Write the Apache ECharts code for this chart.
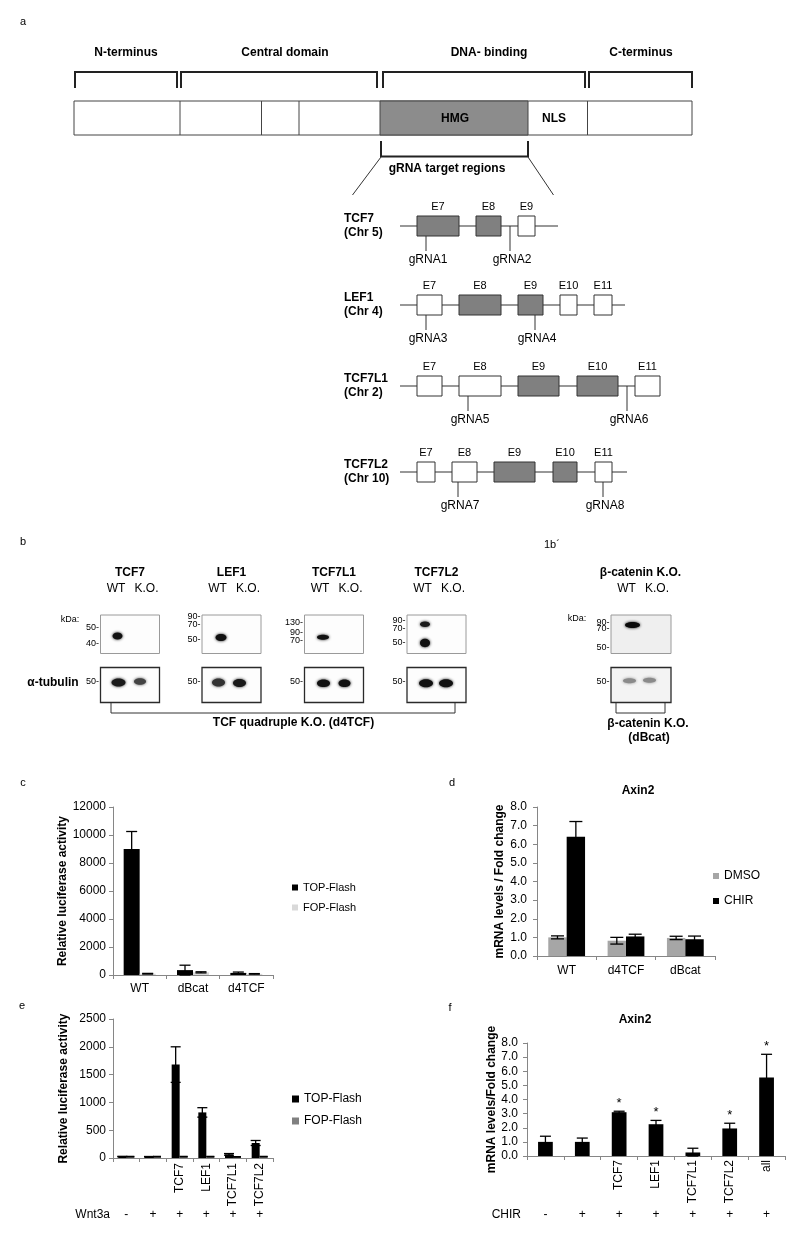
<!DOCTYPE html>
<html>
<head>
<meta charset="utf-8">
<title>Figure 1</title>
<script src="https://cdn.jsdelivr.net/npm/echarts@6/dist/echarts.min.js"></script>
<style>
html,body{margin:0;padding:0;background:#ffffff;}
#chart{width:807px;height:1240px;}
</style>
</head>
<body>
<div id="chart"></div>
<script>
// ================= DATA =================
// panel a (schematic text)
const domainLabels = ['N-terminus', 'Central domain', 'DNA- binding', 'C-terminus'];
const geneNames = ['TCF7', 'LEF1', 'TCF7L1', 'TCF7L2'];
const geneChr = ['(Chr 5)', '(Chr 4)', '(Chr 2)', '(Chr 10)'];
const geneExonNames = [['E7','E8','E9'], ['E7','E8','E9','E10','E11'], ['E7','E8','E9','E10','E11'], ['E7','E8','E9','E10','E11']];
const geneExonTargeted = [[1,1,0], [0,1,1,0,0], [0,0,1,1,0], [0,0,1,1,0]];
const geneGuides = [['gRNA1','gRNA2'], ['gRNA3','gRNA4'], ['gRNA5','gRNA6'], ['gRNA7','gRNA8']];
// panel b (blot text)
const blotTitles = ['TCF7', 'LEF1', 'TCF7L1', 'TCF7L2', 'β-catenin K.O.'];
const blotMarkers = [['50-','40-'], ['90-','70-','50-'], ['130-','90-','70-'], ['90-','70-','50-'], ['90-','70-','50-']];

// panel c
const cCategories = ['WT', 'dBcat', 'd4TCF'];
const cTopFlash = [9000, 350, 150];
const cTopFlashErr = [1250, 350, 60];
const cFopFlash = [90, 190, 80];
const cFopFlashErr = [25, 40, 20];
const cYTicks = [0, 2000, 4000, 6000, 8000, 10000, 12000];

// panel d
const dCategories = ['WT', 'd4TCF', 'dBcat'];
const dDMSO = [1.0, 0.82, 0.97];
const dDMSOErr = [0.08, 0.18, 0.09];
const dCHIR = [6.4, 1.05, 0.9];
const dCHIRErr = [0.82, 0.12, 0.17];
const dYTicks = [0, 1, 2, 3, 4, 5, 6, 7, 8];

// panel e
const eCategories = ['', '', 'TCF7', 'LEF1', 'TCF7L1', 'TCF7L2'];
const eWnt3a = ['-', '+', '+', '+', '+', '+'];
const eTopFlash = [25, 22, 1680, 820, 65, 270];
const eTopFlashErr = [5, 5, 320, 85, 15, 45];
const eFopFlash = [25, 25, 25, 25, 20, 25];
const eFopFlashErr = [4, 4, 4, 4, 4, 4];
const eYTicks = [0, 500, 1000, 1500, 2000, 2500];

// panel f
const fCategories = ['', '', 'TCF7', 'LEF1', 'TCF7L1', 'TCF7L2', 'all'];
const fCHIR = ['-', '+', '+', '+', '+', '+', '+'];
const fAxin2 = [1.0, 1.0, 3.1, 2.25, 0.25, 1.95, 5.55];
const fAxin2Err = [0.4, 0.27, 0.07, 0.27, 0.3, 0.37, 1.65];
const fSignificance = ['', '', '*', '*', '', '*', '*'];
const fYTicks = [0, 1, 2, 3, 4, 5, 6, 7, 8];

// ================= HELPERS =================
const FONT = '"Liberation Sans", Arial, Helvetica, sans-serif';
const AX = '#868686';
function txt(x, y, s, o) {
  o = o || {};
  const al = o.align || 'center', va = o.va || 'middle';
  return {type: 'text', x: x, y: y, silent: true, z: 10,
    style: {text: s, fill: o.color || '#000', fontSize: o.size || 12, fontWeight: o.bold ? 'bold' : 'normal',
      fontFamily: FONT, align: al, verticalAlign: va, textAlign: al, textVerticalAlign: va}};
}
function seg(x1, y1, x2, y2, w, c) {
  return {type: 'line', silent: true, shape: {x1: x1, y1: y1, x2: x2, y2: y2}, style: {stroke: c || '#222', lineWidth: w || 1}};
}
function poly(pts, w, c) {
  return {type: 'polyline', silent: true, shape: {points: pts}, style: {stroke: c || '#222', lineWidth: w || 1, fill: null}};
}
function box(x, y, w, h, fill, stroke, lw) {
  return {type: 'rect', silent: true, shape: {x: x, y: y, width: w, height: h}, style: {fill: fill, stroke: stroke || '#333', lineWidth: lw || 1}};
}
function blob(cx, cy, rx, ry, c, blur) {
  return {type: 'ellipse', silent: true, shape: {cx: cx, cy: cy, rx: rx, ry: ry},
    style: {fill: c, shadowBlur: blur == null ? 3 : blur, shadowColor: c}};
}

// ================= PANEL A & B (illustrations) =================
const G = [];
// panel letters
G.push(txt(23, 22, 'a', {size: 11}));
G.push(txt(23, 542, 'b', {size: 11}));
G.push(txt(544, 545, '1b´', {size: 11, align: 'left'}));
G.push(txt(23, 783, 'c', {size: 11}));
G.push(txt(452, 783, 'd', {size: 11}));
G.push(txt(22, 1006, 'e', {size: 11}));
G.push(txt(450, 1008, 'f', {size: 11}));

// protein domains
const domainCenters = [126, 285, 489, 641];
domainLabels.forEach((s, i) => G.push(txt(domainCenters[i], 53, s, {bold: true})));
[[75, 177], [181, 377], [383, 585], [589, 692]].forEach(b => G.push(poly([[b[0], 88], [b[0], 72], [b[1], 72], [b[1], 88]], 2)));
G.push(box(74, 101, 618, 34, '#fff', '#444'));
G.push(box(380, 101, 148, 34, '#8c8c8c', '#444'));
[180, 261.5, 299, 587.5].forEach(x => G.push(seg(x, 101, x, 135, 1, '#444')));
G.push(txt(455, 119, 'HMG', {bold: true}));
G.push(txt(554, 119, 'NLS', {bold: true}));
G.push(poly([[381, 141], [381, 156.5], [528, 156.5], [528, 141]], 2));
G.push(txt(447, 169, 'gRNA target regions', {bold: true}));
G.push(seg(381, 157, 352.5, 195, 1, '#333'));
G.push(seg(528, 157, 553.5, 195, 1, '#333'));

// gene exon diagrams
const rowY = [226, 305, 386, 472];
const rowEnd = [558, 625, 660, 627];
const exonX = [
  [[417, 459], [476, 501], [518, 535]],
  [[417, 442], [459, 501], [518, 543], [560, 577], [594, 612]],
  [[417, 442], [459, 501], [518, 559], [577, 618], [635, 660]],
  [[417, 435], [452, 477], [494, 535], [553, 577], [595, 612]]
];
const guideX = [[[426, 1], [510, 0]], [[426, 1], [535, 1]], [[468, 1], [627, 0]], [[458, 1], [603, 1]]];
geneNames.forEach((g, r) => {
  const y = rowY[r];
  G.push(txt(344, y - 7, g, {bold: true, align: 'left'}));
  G.push(txt(344, y + 7, geneChr[r], {bold: true, align: 'left'}));
  G.push(seg(400, y, rowEnd[r], y, 1.2, '#333'));
  exonX[r].forEach((e, k) => {
    G.push(box(e[0], y - 10, e[1] - e[0], 20, geneExonTargeted[r][k] ? '#808080' : '#fff', '#333', 1));
    G.push(txt((e[0] + e[1]) / 2, y - 19.5, geneExonNames[r][k], {size: 11}));
  });
  guideX[r].forEach((gd, k) => {
    G.push(seg(gd[0], gd[1] ? y + 10 : y, gd[0], y + 25, 1, '#333'));
    G.push(txt(gd[0] + 2, y + 33.5, geneGuides[r][k], {size: 12}));
  });
});

// western blots
const blotX = [100.5, 202, 304.5, 407, 611];
const markerY = [[628, 644], [617, 624.5, 639.5], [623, 632.5, 640.5], [620.5, 628.5, 642.5], [622.5, 628.5, 647.5]];
const upperBands = [
  [[117.5, 636, 5, 3.5, '#111']],
  [[221, 637.5, 5.5, 3.5, '#111']],
  [[323, 637.3, 6, 2.5, '#111']],
  [[425, 624.3, 5, 2.8, '#1a1a1a'], [425, 643, 5, 4.2, '#111']],
  [[632.5, 625, 7.5, 3, '#0a0a0a']]
];
const lowerBands = [
  [[118.5, 682.5, 7, 4, '#1a1a1a'], [140, 681.5, 6, 3.2, '#444']],
  [[218.5, 682.5, 6.5, 4, '#333'], [239.5, 683, 6.5, 4, '#1a1a1a']],
  [[323.5, 683.3, 6.5, 3.8, '#111'], [344.5, 683.3, 6, 3.8, '#111']],
  [[426, 683.3, 7, 4, '#111'], [446, 683.3, 7, 4, '#111']],
  [[629.5, 680.7, 6.5, 2.5, '#8a8a8a'], [649.5, 680.2, 6.5, 2.5, '#8a8a8a']]
];
blotTitles.forEach((t, b) => {
  const x = blotX[b];
  const w = b === 4 ? 60 : 59;
  const isCat = b === 4;
  G.push(txt(x + 29.5, 573, t, {bold: true}));
  G.push(txt(x + 15.5, 589, 'WT'));
  G.push(txt(x + 46, 589, 'K.O.'));
  G.push(box(x, 615, w, 38.5, isCat ? '#efefef' : '#fdfdfd', '#9a9a9a', 1));
  G.push(box(x, 667.5, w, 35, isCat ? '#f3f3f3' : '#fdfdfd', '#2a2a2a', 1.3));
  blotMarkers[b].forEach((m, k) => G.push(txt(x - 1.5, markerY[b][k], m, {size: 9, align: 'right'})));
  G.push(txt(x - 1.5, 682, '50-', {size: 9, align: 'right'}));
  upperBands[b].forEach(d => G.push(blob(d[0], d[1], d[2], d[3], d[4])));
  lowerBands[b].forEach(d => G.push(blob(d[0], d[1], d[2], d[3], d[4])));
});
G.push(txt(70, 620, 'kDa:', {size: 9}));
G.push(txt(577, 619, 'kDa:', {size: 9}));
G.push(txt(53, 683, 'α-tubulin', {bold: true}));
G.push(poly([[111, 703], [111, 713], [455, 713], [455, 703]], 1, '#333'));
G.push(txt(293.5, 723, 'TCF quadruple K.O. (d4TCF)', {bold: true}));
G.push(poly([[616, 703], [616, 713], [665, 713], [665, 703]], 1, '#333'));
G.push(txt(648, 724, 'β-catenin K.O.', {bold: true}));
G.push(txt(649, 738, '(dBcat)', {bold: true}));

// ================= CHART HELPERS =================
function errorBars(axisIdx, values, errors, offsetFrac, capHalf, marks) {
  return {
    type: 'custom', xAxisIndex: axisIdx, yAxisIndex: axisIdx, silent: true, z: 5,
    encode: {x: 0, y: 1},
    data: values.map((v, i) => [i, v, errors[i]]),
    renderItem: function (params, api) {
      const i = api.value(0), v = api.value(1), e = api.value(2);
      const band = api.size([1, 0])[0];
      const x = api.coord([i, v])[0] + offsetFrac * band;
      const yt = api.coord([i, v + e])[1];
      const yb = api.coord([i, Math.max(0, v - e)])[1];
      const st = () => ({stroke: '#000', lineWidth: 1.3});
      const ch = [
        {type: 'line', shape: {x1: x, y1: yt, x2: x, y2: yb}, style: st()},
        {type: 'line', shape: {x1: x - capHalf, y1: yt, x2: x + capHalf, y2: yt}, style: st()},
        {type: 'line', shape: {x1: x - capHalf, y1: yb, x2: x + capHalf, y2: yb}, style: st()}
      ];
      if (marks && marks[i]) {
        ch.push({type: 'text', style: {text: marks[i], x: x, y: yt - 1, fill: '#000', fontSize: 13, fontFamily: FONT,
          align: 'center', verticalAlign: 'bottom', textAlign: 'center', textVerticalAlign: 'bottom'}});
      }
      return {type: 'group', children: ch};
    }
  };
}
function valueAxis(gi, ticks, name, nameGap, margin, decimals) {
  return {
    gridIndex: gi, type: 'value', min: ticks[0], max: ticks[ticks.length - 1], interval: ticks[1] - ticks[0],
    axisLine: {show: true, lineStyle: {color: AX, width: 1}},
    axisTick: {show: true, length: 4, lineStyle: {color: AX}},
    splitLine: {show: false},
    axisLabel: {fontSize: 12, color: '#000', margin: margin, fontFamily: FONT,
      formatter: v => decimals ? Number(v).toFixed(decimals) : String(v)},
    name: name, nameLocation: 'middle', nameGap: nameGap,
    nameTextStyle: {fontSize: 12, fontWeight: 'bold', color: '#000', fontFamily: FONT}
  };
}
function catAxis(gi, cats, rotate, margin, pad) {
  return {
    gridIndex: gi, type: 'category', data: cats, boundaryGap: true,
    axisLine: {show: true, lineStyle: {color: AX, width: 1}},
    axisTick: {show: true, alignWithLabel: false, length: 4, lineStyle: {color: AX}},
    axisLabel: {fontSize: 12, color: '#000', rotate: rotate, margin: margin, interval: 0, fontFamily: FONT,
      padding: pad || 0}
  };
}
function signAxis(gi, signs, name, gap) {
  return {
    gridIndex: gi, type: 'category', data: signs, boundaryGap: true,
    axisLine: {show: false}, axisTick: {show: false},
    axisLabel: {fontSize: 12, color: '#000', margin: 0, verticalAlign: 'middle', interval: 0, fontFamily: FONT},
    name: name, nameLocation: 'start', nameGap: gap,
    nameTextStyle: {fontSize: 12, color: '#000', fontFamily: FONT}
  };
}
function hiddenY(gi) { return {gridIndex: gi, type: 'value', min: 0, max: 1, show: false}; }

const option = {
  animation: false,
  backgroundColor: '#ffffff',
  textStyle: {fontFamily: FONT},
  title: [
    {text: 'Axin2', left: 638, top: 785, textAlign: 'center', padding: 0, textStyle: {fontSize: 12, fontWeight: 'bold', color: '#000', fontFamily: FONT}},
    {text: 'Axin2', left: 635, top: 1014, textAlign: 'center', padding: 0, textStyle: {fontSize: 12, fontWeight: 'bold', color: '#000', fontFamily: FONT}}
  ],
  legend: [
    {left: 292, top: 881, orient: 'vertical', itemWidth: 6, itemHeight: 6, itemGap: 7, icon: 'rect', selectedMode: false, padding: 0,
      textStyle: {fontSize: 11, lineHeight: 13, color: '#000', fontFamily: FONT},
      data: [{name: 'TOP-Flash', itemStyle: {color: '#000'}}, {name: 'FOP-Flash', itemStyle: {color: '#d9d9d9'}}]},
    {left: 713, top: 869, orient: 'vertical', itemWidth: 6, itemHeight: 6, itemGap: 11, icon: 'rect', selectedMode: false, padding: 0,
      textStyle: {fontSize: 12, lineHeight: 14, color: '#000', fontFamily: FONT},
      data: [{name: 'DMSO', itemStyle: {color: '#a6a6a6'}}, {name: 'CHIR', itemStyle: {color: '#000'}}]},
    {left: 292, top: 1092, orient: 'vertical', itemWidth: 7, itemHeight: 7, itemGap: 8, icon: 'rect', selectedMode: false, padding: 0,
      textStyle: {fontSize: 12, lineHeight: 14, color: '#000', fontFamily: FONT},
      data: [{name: 'TOP-Flash', itemStyle: {color: '#000'}}, {name: 'FOP-Flash', itemStyle: {color: '#808080'}}]}
  ],
  grid: [
    {left: 113, top: 807, width: 160, height: 168},   // c
    {left: 537, top: 807, width: 178, height: 149},   // d
    {left: 113, top: 1019, width: 160, height: 139},  // e
    {left: 113, top: 1200, width: 160, height: 15},   // e sign row
    {left: 527, top: 1043, width: 258, height: 113},  // f
    {left: 527, top: 1200, width: 258, height: 15}    // f sign row
  ],
  xAxis: [
    catAxis(0, cCategories, 0, 8),
    catAxis(1, dCategories, 0, 9),
    catAxis(2, eCategories, 90, 5, [0, 0, 8, 0]),
    signAxis(3, eWnt3a, 'Wnt3a', 3),
    catAxis(4, fCategories, 90, 4, [0, 0, 6, 0]),
    signAxis(5, fCHIR, 'CHIR', 6)
  ],
  yAxis: [
    valueAxis(0, cYTicks, 'Relative luciferase activity', 43, 7, 0),
    valueAxis(1, dYTicks, 'mRNA levels / Fold change', 31, 10, 1),
    valueAxis(2, eYTicks, 'Relative luciferase activity', 43, 7, 0),
    hiddenY(3),
    valueAxis(4, fYTicks, 'mRNA levels/Fold change', 29, 9, 1),
    hiddenY(5)
  ],
  series: [
    // c
    {type: 'bar', name: 'TOP-Flash', xAxisIndex: 0, yAxisIndex: 0, data: cTopFlash, barWidth: '30%', barGap: '0%', itemStyle: {color: '#000'}, silent: true},
    {type: 'bar', name: 'FOP-Flash', xAxisIndex: 0, yAxisIndex: 0, data: cFopFlash, barWidth: '30%', barGap: '0%', itemStyle: {color: '#d9d9d9'}, silent: true},
    errorBars(0, cTopFlash, cTopFlashErr, -0.15, 5.5),
    errorBars(0, cFopFlash, cFopFlashErr, 0.15, 5.5),
    // d
    {type: 'bar', name: 'DMSO', xAxisIndex: 1, yAxisIndex: 1, data: dDMSO, barWidth: '31%', barGap: '0%', itemStyle: {color: '#a6a6a6'}, silent: true},
    {type: 'bar', name: 'CHIR', xAxisIndex: 1, yAxisIndex: 1, data: dCHIR, barWidth: '31%', barGap: '0%', itemStyle: {color: '#000'}, silent: true},
    errorBars(1, dDMSO, dDMSOErr, -0.155, 6.5),
    errorBars(1, dCHIR, dCHIRErr, 0.155, 6.5),
    // e
    {type: 'bar', name: 'TOP-Flash', xAxisIndex: 2, yAxisIndex: 2, data: eTopFlash, barWidth: '30%', barGap: '0%', itemStyle: {color: '#000'}, silent: true},
    {type: 'bar', name: 'FOP-Flash', xAxisIndex: 2, yAxisIndex: 2, data: eFopFlash, barWidth: '30%', barGap: '0%', itemStyle: {color: '#808080'}, silent: true},
    errorBars(2, eTopFlash, eTopFlashErr, -0.15, 5),
    errorBars(2, eFopFlash, eFopFlashErr, 0.15, 4),
    // f
    {type: 'bar', name: 'Axin2 fold change', xAxisIndex: 4, yAxisIndex: 4, data: fAxin2, barWidth: '40%', itemStyle: {color: '#000'}, silent: true},
    errorBars(4, fAxin2, fAxin2Err, 0, 5.5, fSignificance)
  ],
  graphic: {elements: G}
};

const chart = echarts.init(document.getElementById('chart'), null, {renderer: 'canvas', width: 807, height: 1240});
chart.setOption(option);
</script>
</body>
</html>
